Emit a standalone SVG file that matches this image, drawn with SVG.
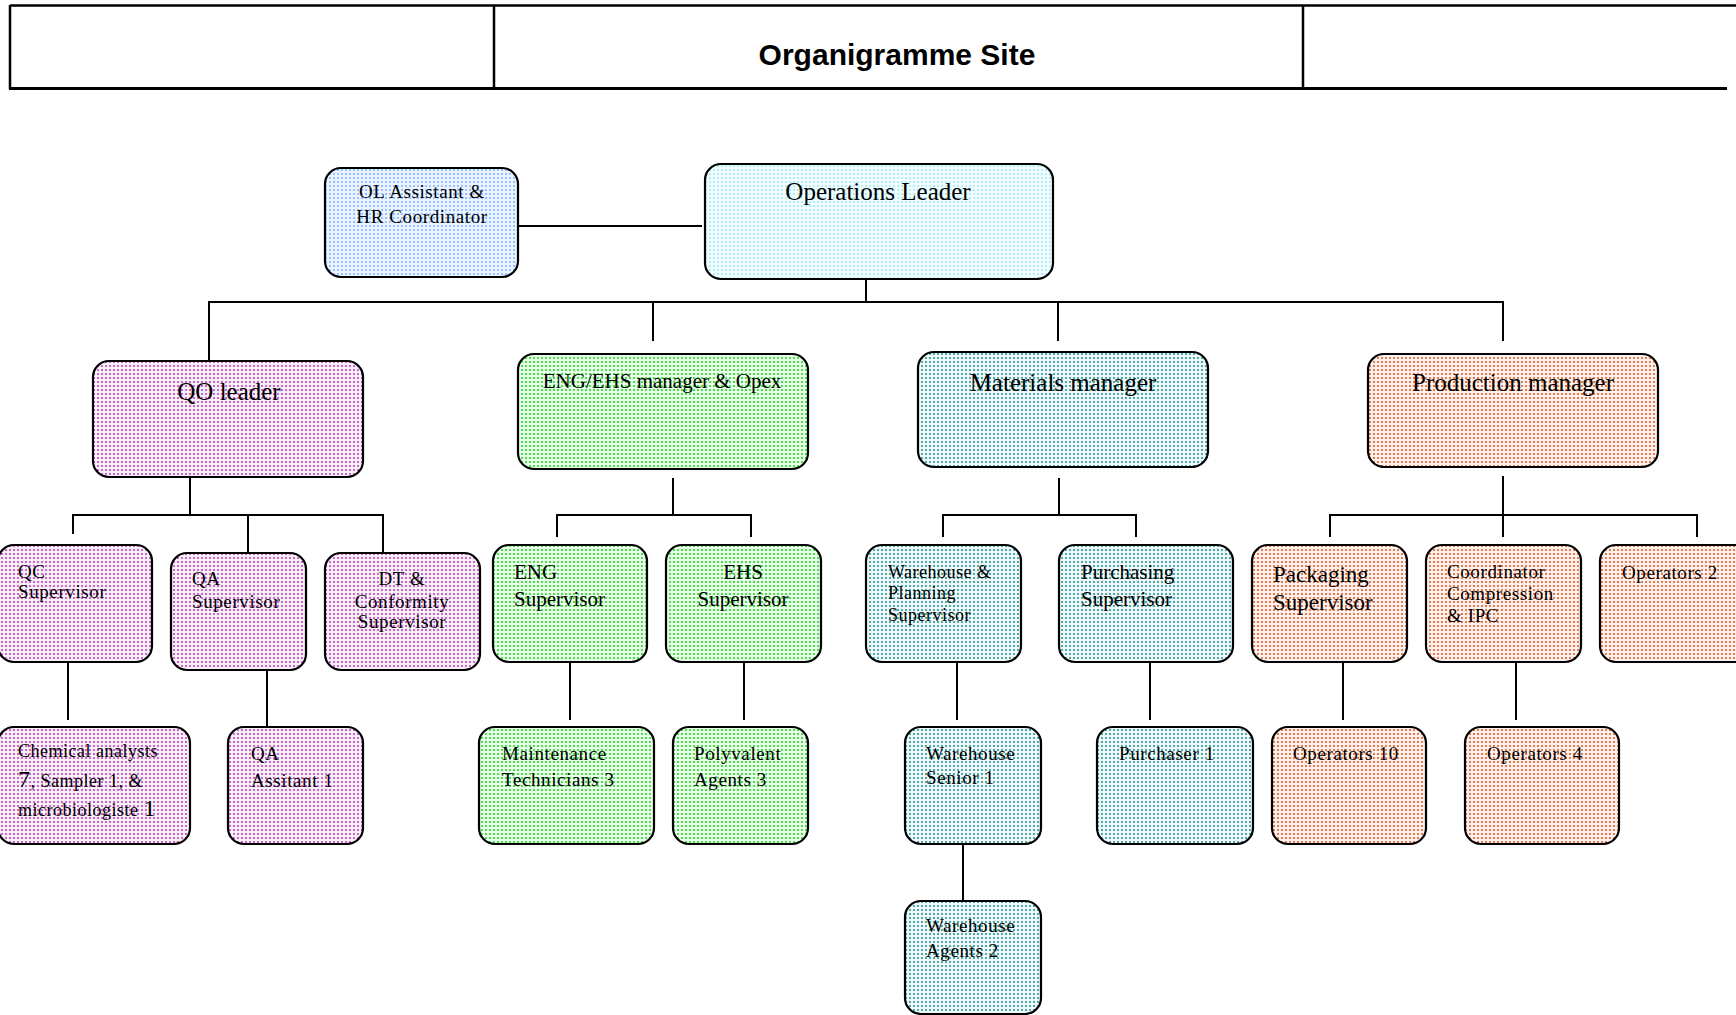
<svg xmlns="http://www.w3.org/2000/svg" width="1736" height="1015" viewBox="0 0 1736 1015">
<defs>
<pattern id="pBlue" patternUnits="userSpaceOnUse" width="4" height="4"><rect width="4" height="4" fill="#eaf3ff"/><rect x="1" y="1" width="2" height="2" fill="#96c2ff"/></pattern>
<pattern id="pCyan" patternUnits="userSpaceOnUse" width="4" height="4"><rect width="4" height="4" fill="#f2fdff"/><rect x="1" y="1" width="2" height="2" fill="#b4eef8"/></pattern>
<pattern id="pPink" patternUnits="userSpaceOnUse" width="4" height="4"><rect width="4" height="4" fill="#f8eef8"/><rect x="1" y="1" width="2" height="2" fill="#c868c8"/></pattern>
<pattern id="pGreen" patternUnits="userSpaceOnUse" width="4" height="4"><rect width="4" height="4" fill="#e8fde8"/><rect x="1" y="1" width="2" height="2" fill="#50dd50"/></pattern>
<pattern id="pTeal" patternUnits="userSpaceOnUse" width="4" height="4"><rect width="4" height="4" fill="#eef8f8"/><rect x="1" y="1" width="2" height="2" fill="#50a8a8"/></pattern>
<pattern id="pOrange" patternUnits="userSpaceOnUse" width="4" height="4"><rect width="4" height="4" fill="#fdf0ea"/><rect x="1" y="1" width="2" height="2" fill="#e07c58"/></pattern>
</defs>
<style>
.box{stroke:#000;stroke-width:2.2}
.blue{fill:url(#pBlue)}.cyan{fill:url(#pCyan)}.pink{fill:url(#pPink)}.green{fill:url(#pGreen)}.teal{fill:url(#pTeal)}.orange{fill:url(#pOrange)}
text{font-family:"Liberation Serif","Times New Roman",serif;fill:#000}
.big{font-size:25px}
.mid{font-size:21px}
.lg{font-size:23px}
.sm{font-size:19px;letter-spacing:0.6px}
.xs{font-size:18px;letter-spacing:0.5px}
.c{text-anchor:middle}
.hdr{stroke:#000;stroke-width:2.5;fill:none}
.con line,.con polyline{stroke:#000;stroke-width:2;fill:none}
.title{font-family:"Liberation Sans",Arial,sans-serif;font-weight:bold;font-size:30px}
</style>
<rect width="1736" height="1015" fill="#fff"/>
<g id="header">
<line class="hdr" x1="10" y1="5.5" x2="1736" y2="5.5"/>
<line class="hdr" x1="10" y1="5" x2="10" y2="89"/>
<line class="hdr" x1="494" y1="5" x2="494" y2="89"/>
<line class="hdr" x1="1303" y1="5" x2="1303" y2="89"/>
<line x1="9" y1="88.5" x2="1727" y2="88.5" stroke="#000" stroke-width="3"/>
<text class="title c" x="897" y="65">Organigramme Site</text>
</g>
<g id="connectors" class="con">
<line x1="518" y1="226" x2="702" y2="226"/>
<line x1="866" y1="266" x2="866" y2="279" stroke-dasharray="1.5 1.5"/>
<line x1="866" y1="279" x2="866" y2="302"/>
<polyline points="209,361 209,302 1503,302 1503,341"/>
<line x1="653" y1="302" x2="653" y2="341"/>
<line x1="1058" y1="302" x2="1058" y2="341"/>
<line x1="190" y1="477" x2="190" y2="515"/>
<polyline points="73,534 73,515 383,515 383,553"/>
<line x1="248" y1="515" x2="248" y2="553"/>
<line x1="68" y1="662" x2="68" y2="720"/>
<line x1="267" y1="670" x2="267" y2="727"/>
<line x1="673" y1="478" x2="673" y2="515"/>
<polyline points="557,537 557,515 751,515 751,537"/>
<line x1="570" y1="662" x2="570" y2="720"/>
<line x1="744" y1="662" x2="744" y2="720"/>
<line x1="1059" y1="478" x2="1059" y2="515"/>
<polyline points="943,537 943,515 1136,515 1136,537"/>
<line x1="957" y1="662" x2="957" y2="720"/>
<line x1="1150" y1="662" x2="1150" y2="720"/>
<line x1="963" y1="844" x2="963" y2="901"/>
<line x1="1503" y1="476" x2="1503" y2="515"/>
<polyline points="1330,537 1330,515 1697,515 1697,537"/>
<line x1="1503" y1="515" x2="1503" y2="537"/>
<line x1="1343" y1="662" x2="1343" y2="720"/>
<line x1="1516" y1="662" x2="1516" y2="720"/>
</g>
<g id="ol-assistant"><rect class="box blue" x="325" y="168" width="193" height="109" rx="16"/><text class="sm c" x="422" y="198">OL Assistant &amp;</text><text class="sm c" x="422" y="223">HR Coordinator</text></g>
<g id="operations-leader"><rect class="box cyan" x="705" y="164" width="348" height="115" rx="16"/><text class="big c" x="878" y="200">Operations Leader</text></g>
<g id="qo-leader"><rect class="box pink" x="93" y="361" width="270" height="116" rx="16"/><text class="big c" x="229" y="400">QO leader</text></g>
<g id="eng-ehs-manager"><rect class="box green" x="518" y="354" width="290" height="115" rx="16"/><text class="mid c" x="662" y="388">ENG/EHS manager &amp; Opex</text></g>
<g id="materials-manager"><rect class="box teal" x="918" y="352" width="290" height="115" rx="16"/><text class="big c" x="1063" y="391">Materials manager</text></g>
<g id="production-manager"><rect class="box orange" x="1368" y="354" width="290" height="113" rx="16"/><text class="big c" x="1513" y="391">Production manager</text></g>
<g id="qc-supervisor"><rect class="box pink" x="-2" y="545" width="154" height="117" rx="16"/><text class="sm" x="18" y="578">QC</text><text class="sm" x="18" y="598">Supervisor</text></g>
<g id="qa-supervisor"><rect class="box pink" x="171" y="553" width="135" height="117" rx="16"/><text class="sm" x="192" y="585">QA</text><text class="sm" x="192" y="608">Supervisor</text></g>
<g id="dt-conformity-supervisor"><rect class="box pink" x="325" y="553" width="155" height="117" rx="16"/><text class="sm c" x="402" y="585">DT &amp;</text><text class="sm c" x="402" y="608">Conformity</text><text class="sm c" x="402" y="628">Supervisor</text></g>
<g id="chemical-analysts"><rect class="box pink" x="-2" y="727" width="192" height="117" rx="16"/><text class="xs" x="18" y="757">Chemical analysts</text><text class="xs" x="18" y="787"><tspan font-size="24">7</tspan>, Sampler 1, &amp;</text><text class="xs" x="18" y="816">microbiologiste <tspan font-size="24">1</tspan></text></g>
<g id="qa-assistant"><rect class="box pink" x="228" y="727" width="135" height="117" rx="16"/><text class="sm" x="251" y="760">QA</text><text class="sm" x="251" y="787">Assitant 1</text></g>
<g id="eng-supervisor"><rect class="box green" x="493" y="545" width="154" height="117" rx="16"/><text class="mid" x="514" y="579">ENG</text><text class="mid" x="514" y="606">Supervisor</text></g>
<g id="ehs-supervisor"><rect class="box green" x="666" y="545" width="155" height="117" rx="16"/><text class="mid c" x="743" y="579">EHS</text><text class="mid c" x="743" y="606">Supervisor</text></g>
<g id="maintenance-technicians"><rect class="box green" x="479" y="727" width="175" height="117" rx="16"/><text class="sm" x="502" y="760">Maintenance</text><text class="sm" x="502" y="786">Technicians 3</text></g>
<g id="polyvalent-agents"><rect class="box green" x="673" y="727" width="135" height="117" rx="16"/><text class="sm" x="694" y="760">Polyvalent</text><text class="sm" x="694" y="786">Agents 3</text></g>
<g id="warehouse-planning-supervisor"><rect class="box teal" x="866" y="545" width="155" height="117" rx="16"/><text class="xs" x="888" y="578">Warehouse &amp;</text><text class="xs" x="888" y="599">Planning</text><text class="xs" x="888" y="621">Supervisor</text></g>
<g id="purchasing-supervisor"><rect class="box teal" x="1059" y="545" width="174" height="117" rx="16"/><text class="mid" x="1081" y="579">Purchasing</text><text class="mid" x="1081" y="606">Supervisor</text></g>
<g id="warehouse-senior"><rect class="box teal" x="905" y="727" width="136" height="117" rx="16"/><text class="sm" x="926" y="760">Warehouse</text><text class="sm" x="926" y="784">Senior 1</text></g>
<g id="purchaser"><rect class="box teal" x="1097" y="727" width="156" height="117" rx="16"/><text class="sm" x="1119" y="760">Purchaser 1</text></g>
<g id="warehouse-agents"><rect class="box teal" x="905" y="901" width="136" height="113" rx="16"/><text class="sm" x="926" y="932">Warehouse</text><text class="sm" x="926" y="957">Agents 2</text></g>
<g id="packaging-supervisor"><rect class="box orange" x="1252" y="545" width="155" height="117" rx="16"/><text class="lg" x="1273" y="582">Packaging</text><text class="lg" x="1273" y="610">Supervisor</text></g>
<g id="coordinator-compression"><rect class="box orange" x="1426" y="545" width="155" height="117" rx="16"/><text class="sm" x="1447" y="578">Coordinator</text><text class="sm" x="1447" y="600">Compression</text><text class="sm" x="1447" y="622">&amp; IPC</text></g>
<g id="operators-2"><rect class="box orange" x="1600" y="545" width="150" height="117" rx="16"/><text class="sm" x="1622" y="579">Operators 2</text></g>
<g id="operators-10"><rect class="box orange" x="1272" y="727" width="154" height="117" rx="16"/><text class="sm" x="1293" y="760">Operators 10</text></g>
<g id="operators-4"><rect class="box orange" x="1465" y="727" width="154" height="117" rx="16"/><text class="sm" x="1487" y="760">Operators 4</text></g>
</svg>
